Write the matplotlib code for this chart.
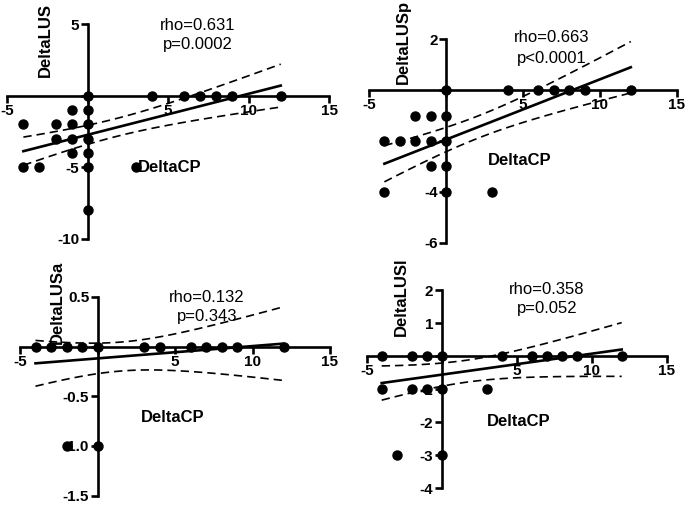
import numpy as np
import matplotlib
matplotlib.use("Agg")
from matplotlib import pyplot as plt

# - - - - - - - DATA - - - - - - -
# visible points; n_* = how many subjects sit on each (overlapping) dot
cp_lus = [0, 4, 6, 7, 8, 9, 12, -1, 0, -4, -2, -1, 0, -2, -1, 0, -1, 0, -4, -3, 0, 3, 0]
d_lus = [0, 0, 0, 0, 0, 0, 0, -1, -1, -2, -2, -2, -2, -3, -3, -3, -4, -4, -5, -5, -5, -5, -8]
n_lus = [1, 1, 1, 1, 2, 2, 2, 1, 1, 1, 1, 2, 2, 2, 1, 1, 1, 1, 2, 1, 1, 1, 1]

cp_lusp = [0, 4, 6, 7, 8, 9, 12, -2, -1, 0, -4, -3, -2, -1, 0, -1, 0, -4, 0, 3]
d_lusp = [0, 0, 0, 0, 0, 0, 0, -1, -1, -1, -2, -2, -2, -2, -2, -3, -3, -4, -4, -4]
n_lusp = [1, 2, 2, 2, 2, 2, 1, 1, 1, 1, 1, 1, 1, 1, 1, 1, 1, 3, 1, 1]

cp_lusa = [-4, -3, -2, -1, 0, 3, 4, 6, 7, 8, 9, 12, -2, 0]
d_lusa = [0, 0, 0, 0, 0, 0, 0, 0, 0, 0, 0, 0, -1, -1]
n_lusa = [1, 2, 2, 3, 3, 1, 1, 1, 1, 1, 1, 1, 1, 1]

cp_lusl = [-4, -2, -1, 0, 4, 6, 7, 8, 9, 12, -4, -2, -1, 0, 3, -3, 0]
d_lusl = [0, 0, 0, 0, 0, 0, 0, 0, 0, 0, -1, -1, -1, -1, -1, -3, -3]
n_lusl = [1, 2, 2, 5, 2, 1, 1, 1, 1, 2, 2, 1, 1, 1, 1, 1, 1]

x_ticks = [-5, 0, 5, 10, 15]
x_ticklabels = ["-5", "", "5", "10", "15"]
y_labels = ["DeltaLUS", "DeltaLUSp", "DeltaLUSa", "DeltaLUSl"]
stats = [("rho=0.631", "p=0.0002"), ("rho=0.663", "p<0.0001"),
         ("rho=0.132", "p=0.343"), ("rho=0.358", "p=0.052")]
y_ticks = [[5, 0, -5, -10], [2, 0, -2, -4, -6],
           [0.5, 0, -0.5, -1.0, -1.5], [2, 1, 0, -1, -2, -3, -4]]
y_ticklabels = [["5", "", "-5", "-10"], ["2", "", "", "-4", "-6"],
                ["0.5", "", "-0.5", "-1.0", "-1.5"],
                ["2", "1", "", "-1", "-2", "-3", "-4"]]

W, H = 685, 505
FONT = "Liberation Sans"


def fpos(px, py):
	return px / W, 1 - py / H


def fit_band(x, y, counts):
	# linear fit with 95% confidence band of the mean
	x = np.repeat(np.asarray(x, float), counts)
	y = np.repeat(np.asarray(y, float), counts)
	n = len(x)
	df = n - 2
	t = 1.96 + 2.37 / df + 2.8 / df ** 2
	b, a = np.polyfit(x, y, 1)
	res = y - (a + b * x)
	s = np.sqrt(np.sum(res ** 2) / df)
	mx = x.mean()
	sxx = np.sum((x - mx) ** 2)
	xs = np.linspace(x.min(), x.max(), 100)
	yh = a + b * xs
	half = t * s * np.sqrt(1 / n + (xs - mx) ** 2 / sxx)
	return xs, yh, yh - half, yh + half


def panel(fig, rect, x, y, counts, idx, ylim, txt_pos, cp_pos, ylab_pos):
	ax = fig.add_axes(rect)
	ax.set_xlim(-5, 15)
	ax.set_ylim(*ylim)
	for s in ["top", "right"]:
		ax.spines[s].set_visible(False)
	ax.spines["left"].set_position(("data", 0))
	ax.spines["bottom"].set_position(("data", 0))
	for s in ["left", "bottom"]:
		ax.spines[s].set_linewidth(1.9)
	ax.patch.set_alpha(0)
	ax.set_xticks(x_ticks)
	ax.set_xticklabels(x_ticklabels)
	ax.set_yticks(y_ticks[idx])
	ax.set_yticklabels(y_ticklabels[idx])
	ax.tick_params(width=1.9, length=5, direction="out", pad=1, labelsize=11)
	for lab in ax.get_xticklabels() + ax.get_yticklabels():
		lab.set_fontfamily(FONT)
		lab.set_fontweight("bold")

	xs, yh, lo, hi = fit_band(x, y, counts)
	ax.plot(xs, yh, color="black", lw=1.9, clip_on=False)
	ax.plot(xs, lo, color="black", lw=1.2, ls=(0, (5, 3)), clip_on=False)
	ax.plot(xs, hi, color="black", lw=1.2, ls=(0, (5, 3)), clip_on=False)
	ax.plot(x, y, "o", color="black", ms=6.5, clip_on=False, zorder=5)

	r, p = stats[idx]
	fig.text(*fpos(*txt_pos[0]), r, ha="center", va="center", fontsize=12, family=FONT)
	fig.text(*fpos(*txt_pos[1]), p, ha="center", va="center", fontsize=12, family=FONT)
	fig.text(*fpos(*cp_pos), "DeltaCP", ha="center", va="center", fontsize=12,
			 fontweight="bold", family=FONT)
	fig.text(*fpos(*ylab_pos), y_labels[idx], ha="center", va="center", fontsize=12,
			 fontweight="bold", family=FONT, rotation=90)
	return ax


# - - - - - - - MAIN - - - - - - -
def main():
	fig = plt.figure(figsize=(W / 100, H / 100), dpi=100)

	def rect(x0, x1, y0, y1):
		return [x0 / W, 1 - y1 / H, (x1 - x0) / W, (y1 - y0) / H]

	panel(fig, rect(7.3, 329, 24, 239), cp_lus, d_lus, n_lus, 0, (-10, 5),
		  [(198, 25), (198, 45)], (170, 167), (45, 40))
	panel(fig, rect(369, 677, 39.3, 242.7), cp_lusp, d_lusp, n_lusp, 1, (-6, 2),
		  [(552, 38), (552, 58)], (520, 160), (403, 42))
	panel(fig, rect(20, 330, 297, 495.5), cp_lusa, d_lusa, n_lusa, 2, (-1.5, 0.5),
		  [(207, 298), (207, 317)], (173, 418), (57, 302))
	panel(fig, rect(366.7, 666.7, 290, 488.3), cp_lusl, d_lusl, n_lusl, 3, (-4, 2),
		  [(547, 289), (547, 309)], (519, 422), (401, 297))

	fig.savefig("out.png", dpi=100)


# - - - - - - - RUN - - - - - - -
if __name__ == "__main__":
	main()
